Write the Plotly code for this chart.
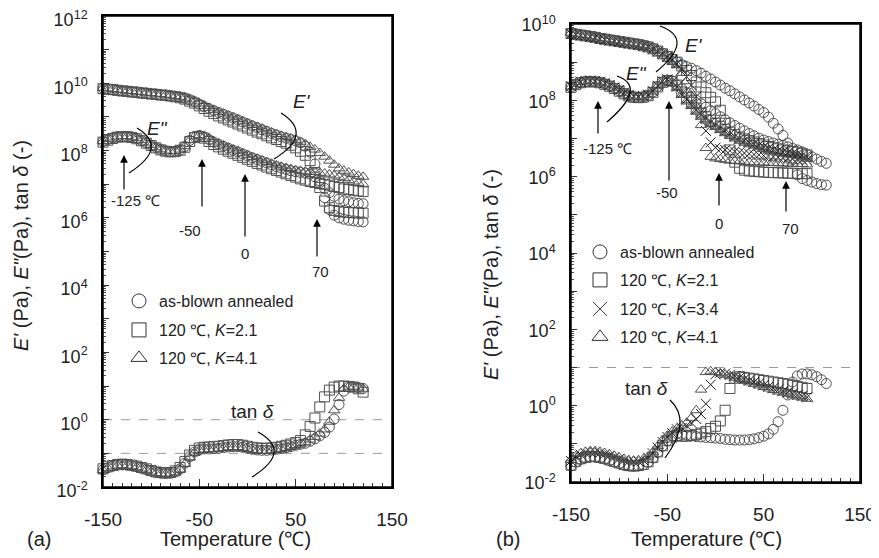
import plotly.graph_objects as go

W, H = 879, 558          # screenshot size
OFF = 8                  # page body margin in the browser
FW, FH = W - OFF, H - 2 * OFF   # keep the page free of vertical overflow
FONT = "Liberation Sans, Arial, sans-serif"

# ---------------- data (log10 of values) ----------------
T_left = list(range(-150, 125, 5))          # panel (a)
T_right_circ = list(range(-150, 120, 5))    # panel (b) as-blown
T_right = list(range(-150, 100, 5))         # panel (b) oriented films

# Panel (a)  E'
a_circ_Ep = [9.86, 9.84, 9.82, 9.80, 9.78, 9.77, 9.75, 9.74, 9.72, 9.71, 9.69, 9.68, 9.66, 9.65, 9.63, 9.61, 9.59, 9.56,
             9.51, 9.45, 9.38, 9.31, 9.25, 9.19, 9.13, 9.08, 9.02, 8.97, 8.91, 8.85,
             8.79, 8.73, 8.68, 8.62, 8.57, 8.51, 8.46, 8.41, 8.37, 8.33, 8.29, 8.23,
             8.13, 7.95, 7.60, 7.10, 6.60, 6.25, 6.08, 6.00, 5.96, 5.93, 5.91, 5.89, 5.88]
a_sq_Ep = [9.84, 9.82, 9.81, 9.79, 9.77, 9.76, 9.74, 9.73, 9.71, 9.70, 9.68, 9.67, 9.65, 9.64, 9.62, 9.60, 9.57, 9.53,
           9.47, 9.41, 9.33, 9.25, 9.17, 9.10, 9.03, 8.97, 8.91, 8.85, 8.79, 8.73,
           8.67, 8.61, 8.55, 8.50, 8.44, 8.38, 8.33, 8.27, 8.22, 8.16, 8.08, 7.98,
           7.86, 7.70, 7.35, 6.90, 6.50, 6.30, 6.22, 6.19, 6.17, 6.16, 6.15, 6.15, 6.14]
a_tri_Ep = [9.87, 9.85, 9.83, 9.81, 9.80, 9.78, 9.77, 9.75, 9.74, 9.72, 9.71, 9.69, 9.68, 9.66, 9.64, 9.62, 9.60, 9.57,
            9.52, 9.46, 9.40, 9.33, 9.27, 9.21, 9.15, 9.10, 9.04, 8.99, 8.93, 8.87,
            8.81, 8.76, 8.70, 8.65, 8.59, 8.54, 8.49, 8.44, 8.40, 8.36, 8.32, 8.26,
            8.19, 8.11, 8.03, 7.93, 7.82, 7.70, 7.58, 7.47, 7.40, 7.35, 7.30, 7.25, 7.22]
# Panel (a)  E''
a_circ_Epp = [8.27, 8.33, 8.38, 8.41, 8.42, 8.42, 8.40, 8.36, 8.30, 8.23, 8.16, 8.09, 8.03, 7.99, 7.97, 7.98, 8.02, 8.12,
              8.30, 8.42, 8.45, 8.41, 8.33, 8.25, 8.19, 8.13, 8.07, 8.01, 7.96, 7.90,
              7.84, 7.78, 7.73, 7.68, 7.63, 7.57, 7.52, 7.48, 7.44, 7.40, 7.37, 7.35,
              7.33, 7.30, 7.22, 7.05, 6.88, 6.75, 6.64, 6.56, 6.51, 6.48, 6.45, 6.43, 6.42]
a_sq_Epp = [8.25, 8.31, 8.36, 8.40, 8.41, 8.41, 8.39, 8.35, 8.29, 8.22, 8.15, 8.08, 8.02, 7.98, 7.96, 7.97, 8.01, 8.10,
            8.27, 8.39, 8.42, 8.37, 8.27, 8.18, 8.11, 8.04, 7.98, 7.92, 7.86, 7.80,
            7.74, 7.68, 7.62, 7.57, 7.51, 7.46, 7.41, 7.36, 7.31, 7.26, 7.21, 7.16,
            7.12, 7.08, 7.05, 7.02, 7.00, 6.97, 6.93, 6.90, 6.86, 6.84, 6.82, 6.80, 6.78]
a_tri_Epp = [8.28, 8.34, 8.39, 8.42, 8.43, 8.43, 8.41, 8.37, 8.31, 8.24, 8.17, 8.10, 8.04, 8.00, 7.98, 7.99, 8.03, 8.13,
             8.31, 8.43, 8.46, 8.42, 8.35, 8.27, 8.21, 8.15, 8.09, 8.03, 7.98, 7.92,
             7.87, 7.81, 7.76, 7.71, 7.66, 7.61, 7.56, 7.52, 7.48, 7.45, 7.42, 7.40,
             7.38, 7.37, 7.36, 7.34, 7.32, 7.29, 7.26, 7.22, 7.18, 7.13, 7.08, 7.04, 7.00]
# Panel (a)  tan delta
a_circ_tan = [-1.49, -1.43, -1.38, -1.35, -1.34, -1.35, -1.37, -1.40, -1.44, -1.48, -1.53, -1.57, -1.59, -1.60, -1.59, -1.55, -1.46, -1.29,
              -1.10, -0.96, -0.89, -0.87, -0.87, -0.86, -0.85, -0.83, -0.81, -0.80, -0.80, -0.82,
              -0.85, -0.88, -0.90, -0.91, -0.91, -0.90, -0.88, -0.86, -0.83, -0.80, -0.76, -0.73,
              -0.70, -0.64, -0.57, -0.48, -0.38, -0.22, 0.02, 0.45, 0.85, 0.97, 0.98, 0.96, 0.93]
a_sq_tan = [-1.46, -1.40, -1.36, -1.33, -1.32, -1.33, -1.35, -1.38, -1.42, -1.46, -1.51, -1.55, -1.57, -1.58, -1.57, -1.52, -1.42, -1.24,
            -1.05, -0.91, -0.84, -0.82, -0.81, -0.80, -0.79, -0.77, -0.75, -0.74, -0.74, -0.76,
            -0.79, -0.82, -0.84, -0.85, -0.85, -0.84, -0.82, -0.79, -0.76, -0.72, -0.68, -0.62,
            -0.45, -0.20, 0.05, 0.38, 0.68, 0.88, 0.97, 1.00, 1.00, 0.99, 0.97, 0.92, 0.82]
a_tri_tan = [-1.50, -1.44, -1.39, -1.36, -1.35, -1.36, -1.38, -1.41, -1.45, -1.49, -1.54, -1.58, -1.60, -1.61, -1.60, -1.56, -1.48, -1.31,
             -1.12, -0.98, -0.91, -0.89, -0.88, -0.87, -0.86, -0.84, -0.83, -0.82, -0.82, -0.84,
             -0.87, -0.90, -0.92, -0.93, -0.93, -0.92, -0.90, -0.87, -0.84, -0.81, -0.77, -0.73,
             -0.67, -0.59, -0.51, -0.41, -0.29, -0.06, 0.28, 0.65, 0.92, 0.98, 0.98, 0.96, 0.92]

# Panel (b)  E'
b_circ_Ep = [9.76, 9.74, 9.72, 9.70, 9.68, 9.66, 9.63, 9.61, 9.59, 9.57, 9.55, 9.53, 9.51, 9.49, 9.47, 9.44, 9.41, 9.36,
             9.30, 9.23, 9.16, 9.08, 9.00, 8.93, 8.88, 8.84, 8.78, 8.71, 8.63, 8.56,
             8.48, 8.40, 8.32, 8.25, 8.17, 8.09, 8.01, 7.93, 7.85, 7.76, 7.68, 7.56,
             7.40, 7.25, 7.08, 6.88, 6.45, 6.05, 5.95, 5.90, 5.86, 5.82, 5.79, 5.78]
b_sq_Ep = [9.75, 9.73, 9.71, 9.69, 9.67, 9.65, 9.62, 9.60, 9.58, 9.56, 9.54, 9.52, 9.50, 9.48, 9.46, 9.43, 9.40, 9.35,
           9.29, 9.22, 9.15, 9.07, 9.00, 8.90, 8.78, 8.65, 8.48, 8.35, 8.20, 8.08,
           7.96, 7.74, 7.40, 6.70, 6.38, 6.22, 6.17, 6.15, 6.14, 6.13, 6.12, 6.11,
           6.11, 6.10, 6.10, 6.09, 6.09, 6.08, 6.08, 6.08]
b_x_Ep = [9.74, 9.72, 9.70, 9.68, 9.66, 9.64, 9.61, 9.59, 9.57, 9.55, 9.53, 9.51, 9.49, 9.47, 9.45, 9.42, 9.39, 9.34,
          9.28, 9.21, 9.14, 9.06, 8.96, 8.80, 8.62, 8.40, 8.10, 7.70, 7.20, 6.90,
          6.76, 6.72, 6.70, 6.68, 6.66, 6.64, 6.62, 6.60, 6.58, 6.57, 6.55, 6.54,
          6.52, 6.51, 6.50, 6.48, 6.47, 6.46, 6.45, 6.44]
b_tri_Ep = [9.77, 9.75, 9.73, 9.71, 9.69, 9.67, 9.64, 9.62, 9.60, 9.58, 9.56, 9.54, 9.52, 9.50, 9.48, 9.45, 9.42, 9.37,
            9.31, 9.24, 9.16, 9.07, 8.92, 8.72, 8.50, 8.20, 7.85, 7.35, 6.75, 6.52,
            6.48, 6.46, 6.44, 6.42, 6.41, 6.40, 6.39, 6.38, 6.38, 6.37, 6.37, 6.36,
            6.36, 6.35, 6.35, 6.34, 6.34, 6.33, 6.33, 6.32]
# Panel (b)  E''
b_circ_Epp = [8.35, 8.42, 8.47, 8.49, 8.50, 8.49, 8.47, 8.43, 8.38, 8.32, 8.25, 8.18, 8.12, 8.09, 8.08, 8.09, 8.13, 8.22,
              8.36, 8.48, 8.53, 8.50, 8.40, 8.30, 8.20, 8.10, 8.00, 7.91, 7.82, 7.73,
              7.65, 7.57, 7.49, 7.41, 7.34, 7.27, 7.20, 7.13, 7.07, 7.01, 6.96, 6.92,
              6.88, 6.85, 6.82, 6.78, 6.74, 6.70, 6.65, 6.58, 6.52, 6.46, 6.40, 6.35]
b_sq_Epp = [8.34, 8.41, 8.46, 8.48, 8.49, 8.48, 8.46, 8.42, 8.37, 8.31, 8.24, 8.17, 8.11, 8.08, 8.07, 8.08, 8.12, 8.21,
            8.35, 8.47, 8.52, 8.50, 8.40, 8.22, 8.07, 7.95, 7.80, 7.67, 7.57, 7.48,
            7.40, 7.32, 7.24, 7.17, 7.10, 7.04, 6.99, 6.95, 6.91, 6.87, 6.83, 6.79,
            6.76, 6.73, 6.70, 6.68, 6.66, 6.64, 6.61, 6.57]
b_x_Epp = [8.37, 8.44, 8.49, 8.51, 8.52, 8.51, 8.49, 8.45, 8.40, 8.34, 8.27, 8.20, 8.14, 8.11, 8.10, 8.11, 8.15, 8.24,
           8.38, 8.50, 8.55, 8.49, 8.36, 8.18, 8.02, 7.90, 7.75, 7.62, 7.52, 7.43,
           7.35, 7.27, 7.19, 7.12, 7.05, 6.99, 6.94, 6.90, 6.86, 6.82, 6.78, 6.74,
           6.71, 6.68, 6.65, 6.63, 6.61, 6.59, 6.56, 6.52]
b_tri_Epp = [8.36, 8.43, 8.48, 8.50, 8.51, 8.50, 8.48, 8.44, 8.39, 8.33, 8.26, 8.19, 8.13, 8.10, 8.09, 8.10, 8.14, 8.23,
             8.37, 8.49, 8.54, 8.47, 8.32, 8.14, 7.97, 7.85, 7.70, 7.57, 7.47, 7.38,
             7.30, 7.22, 7.14, 7.07, 7.00, 6.94, 6.89, 6.85, 6.81, 6.77, 6.73, 6.69,
             6.66, 6.63, 6.60, 6.58, 6.56, 6.54, 6.51, 6.47]
# Panel (b)  tan delta
b_circ_tan = [-1.58, -1.48, -1.41, -1.37, -1.35, -1.35, -1.37, -1.40, -1.44, -1.48, -1.52, -1.56, -1.58, -1.59, -1.58, -1.55, -1.48, -1.37,
              -1.22, -1.06, -0.92, -0.80, -0.73, -0.75, -0.77, -0.79, -0.81, -0.82, -0.83, -0.84,
              -0.85, -0.86, -0.88, -0.89, -0.90, -0.90, -0.90, -0.89, -0.87, -0.84, -0.80, -0.74,
              -0.62, -0.42, -0.12, 0.28, 0.62, 0.78, 0.83, 0.83, 0.81, 0.76, 0.68, 0.58]
b_sq_tan = [-1.56, -1.46, -1.39, -1.35, -1.33, -1.33, -1.35, -1.38, -1.42, -1.46, -1.50, -1.54, -1.57, -1.58, -1.57, -1.54, -1.47, -1.36,
            -1.21, -1.05, -0.92, -0.82, -0.78, -0.80, -0.80, -0.78, -0.75, -0.72, -0.68, -0.60,
            -0.54, -0.40, -0.12, 0.45, 0.72, 0.76, 0.74, 0.72, 0.70, 0.68, 0.66, 0.64,
            0.62, 0.60, 0.58, 0.56, 0.53, 0.50, 0.48, 0.45]
b_x_tan = [-1.45, -1.35, -1.28, -1.24, -1.22, -1.22, -1.24, -1.27, -1.31, -1.35, -1.39, -1.43, -1.46, -1.47, -1.46, -1.43, -1.36, -1.25,
           -1.10, -0.95, -0.82, -0.72, -0.62, -0.58, -0.52, -0.45, -0.35, -0.22, 0.05, 0.55,
           0.82, 0.86, 0.84, 0.81, 0.78, 0.74, 0.70, 0.66, 0.62, 0.58, 0.54, 0.50,
           0.46, 0.42, 0.38, 0.35, 0.31, 0.28, 0.25, 0.22]
b_tri_tan = [-1.42, -1.32, -1.25, -1.21, -1.19, -1.19, -1.21, -1.24, -1.28, -1.32, -1.36, -1.40, -1.43, -1.44, -1.43, -1.40, -1.33, -1.22,
             -1.06, -0.90, -0.78, -0.68, -0.60, -0.52, -0.45, -0.32, -0.12, 0.42, 0.88, 0.90,
             0.88, 0.85, 0.81, 0.77, 0.73, 0.69, 0.65, 0.61, 0.57, 0.53, 0.49, 0.45,
             0.41, 0.37, 0.34, 0.31, 0.27, 0.24, 0.21, 0.18]

x_tickvals = [-150, -50, 50, 150]
left_decades = list(range(-2, 13))
right_decades = list(range(-2, 11))

legend_a = ["as-blown annealed", "120 ℃, <i>K</i>=2.1", "120 ℃, <i>K</i>=4.1"]
legend_b = ["as-blown annealed", "120 ℃, <i>K</i>=2.1", "120 ℃, <i>K</i>=3.4", "120 ℃, <i>K</i>=4.1"]

# ---------------- styles ----------------
STY = {
    "circ": dict(symbol="circle-open", color="#505050"),
    "sq": dict(symbol="square-open", color="#505050"),
    "x": dict(symbol="x-thin-open", color="#1e1e1e"),
    "tri": dict(symbol="triangle-up-open", color="#505050"),
}


def lin(vals):
    return [10 ** v for v in vals]


def px(x):
    return (x - OFF) / FW


def py(y):
    return 1 - (y - OFF) / FH


fig = go.Figure()
legend_layouts = {}
legend_count = [0]


def add_series(T, curves, key, name, xa, ya, lx, ly):
    st = STY[key]
    for c in curves:
        fig.add_trace(go.Scatter(
            x=T, y=lin(c), mode="markers", xaxis=xa, yaxis=ya, showlegend=False,
            cliponaxis=False, hoverinfo="skip",
            marker=dict(symbol=st["symbol"], size=10, color=st["color"], line=dict(width=1, color=st["color"]))))
    legend_count[0] += 1
    lid = "legend" if legend_count[0] == 1 else "legend%d" % legend_count[0]
    legend_layouts[lid] = dict(x=px(lx), y=py(ly), xanchor="left", yanchor="middle",
                               bgcolor="rgba(0,0,0,0)", borderwidth=0,
                               font=dict(family=FONT, size=16, color="#222"))
    fig.add_trace(go.Scatter(
        x=[None], y=[None], mode="markers", xaxis=xa, yaxis=ya, name=name, legend=lid,
        marker=dict(symbol=st["symbol"], size=14, color="#333333", line=dict(width=1, color="#333333"))))


LX_A, LX_B = 119, 580
add_series(T_left, [a_circ_Ep, a_circ_Epp, a_circ_tan], "circ", legend_a[0], "x", "y", LX_A, 301)
add_series(T_left, [a_sq_Ep, a_sq_Epp, a_sq_tan], "sq", legend_a[1], "x", "y", LX_A, 330)
add_series(T_left, [a_tri_Ep, a_tri_Epp, a_tri_tan], "tri", legend_a[2], "x", "y", LX_A, 358)

add_series(T_right_circ, [b_circ_Ep, b_circ_Epp, b_circ_tan], "circ", legend_b[0], "x2", "y2", LX_B, 252)
add_series(T_right, [b_sq_Ep, b_sq_Epp, b_sq_tan], "sq", legend_b[1], "x2", "y2", LX_B, 280)
add_series(T_right, [b_x_Ep, b_x_Epp, b_x_tan], "x", legend_b[2], "x2", "y2", LX_B, 309)
add_series(T_right, [b_tri_Ep, b_tri_Epp, b_tri_tan], "tri", legend_b[3], "x2", "y2", LX_B, 337)


def xaxis_cfg(dom, anchor):
    return dict(domain=dom, anchor=anchor, range=[-150, 150], tickmode="array", tickvals=x_tickvals,
                ticktext=[str(v) for v in x_tickvals], ticks="inside", ticklen=8, tickwidth=1,
                tickcolor="#333", showline=True, linecolor="black", linewidth=1.5, mirror=True,
                showgrid=False, zeroline=False, ticklabelstandoff=14, automargin=False,
                ticklabeloverflow="allow",
                tickfont=dict(family=FONT, size=19, color="#222"),
                minor=dict(tickmode="array", tickvals=list(range(-140, 150, 10)), ticks="inside",
                           ticklen=4, tickwidth=1, tickcolor="#333", showgrid=False))


def yaxis_cfg(dom, decs, anchor, shift):
    return dict(domain=dom, anchor=anchor, type="log", range=[decs[0] - 1e-6, decs[-1] + 1e-6],
                tickmode="array",
                tickvals=[10 ** d for d in decs],
                ticktext=[("10<sup>%d</sup>" % d) if d % 2 == 0 else "" for d in decs],
                ticks="inside", ticklen=6, tickwidth=1, tickcolor="#333",
                showline=True, linecolor="black", linewidth=1.5, mirror=True,
                showgrid=False, zeroline=False, ticklabelstandoff=10, ticklabelshift=shift,
                automargin=False, ticklabeloverflow="allow",
                tickfont=dict(family=FONT, size=18, color="#222"),
                minor=dict(tickmode="array",
                           tickvals=[m * 10 ** d for d in decs[:-1] for m in range(2, 10)],
                           ticks="inside", ticklen=3, tickwidth=1, tickcolor="#555", showgrid=False))


fig.update_layout(
    width=FW, height=FH, margin=dict(l=0, r=0, t=0, b=0, autoexpand=False),
    paper_bgcolor="white", plot_bgcolor="white",
    font=dict(family=FONT, size=16, color="#222"),
    xaxis=xaxis_cfg([px(103), px(392)], "y"),
    yaxis=yaxis_cfg([py(487), py(16)], left_decades, "x", 4),
    xaxis2=xaxis_cfg([px(571), px(860)], "y2"),
    yaxis2=yaxis_cfg([py(482), py(24)], right_decades, "x2", 1),
    showlegend=True,
    **legend_layouts
)

# panel frames
for xa, ya in [("x", "y"), ("x2", "y2")]:
    fig.add_shape(type="rect", xref=xa + " domain", yref=ya + " domain", x0=0, x1=1, y0=0, y1=1,
                  line=dict(color="black", width=1.5), fillcolor="rgba(0,0,0,0)", layer="above")

# dashed reference lines
dash_lines = [("x", "y", 0.0, left_decades), ("x", "y", -1.0, left_decades), ("x2", "y2", 1.0, right_decades)]
for xa, ya, dec, decs in dash_lines:
    yd = (dec - decs[0]) / (decs[-1] - decs[0])
    fig.add_shape(type="line", xref=xa + " domain", yref=ya + " domain", x0=0, x1=1, y0=yd, y1=yd,
                  line=dict(color="#9a9a9a", width=1, dash="dash"), layer="below")

# curved bracket marks (pixel positions converted to paper units)
arcs = [
    ((137, 128), (151, 149), (129, 173)),
    ((281, 113), (296, 135), (274, 159)),
    ((258, 432), (274, 453), (252, 477)),
    ((660, 26), (677, 44), (656, 72)),
    ((617, 76), (630, 93), (607, 122)),
    ((670, 400), (680, 425), (665, 458)),
]
for p0, p1, p2 in arcs:
    cx = 2 * p1[0] - (p0[0] + p2[0]) / 2
    cy = 2 * p1[1] - (p0[1] + p2[1]) / 2
    path = "M %f,%f Q %f,%f %f,%f" % (px(p0[0]), py(p0[1]), px(cx), py(cy), px(p2[0]), py(p2[1]))
    fig.add_shape(type="path", xref="paper", yref="paper", path=path, line=dict(color="black", width=1.2))

# arrows (x, tip_y, tail_y)
arrows = [(124, 155, 191), (202, 159, 208), (245, 174, 238), (317, 219, 258),
          (598, 101, 135), (669, 101, 182), (719, 173, 207), (786, 181, 213)]
for x, tip, tail in arrows:
    fig.add_annotation(x=px(x), y=py(tip), xref="paper", yref="paper", ax=0, ay=tail - tip,
                       text="", showarrow=True, arrowhead=2, arrowsize=1.3, arrowwidth=1.2,
                       arrowcolor="black")

texts = [
    ("-125 ℃", 135, 201, 15), ("-50", 190, 230, 15), ("0", 245, 253, 15), ("70", 320, 271, 15),
    ("-125 ℃", 607, 148, 15), ("-50", 667, 193, 15), ("0", 719, 224, 15), ("70", 790, 228, 15),
    ("<i>E'</i>", 302, 102, 19), ('<i>E"</i>', 157, 128, 19), ("tan <i>δ</i>", 253, 411, 19),
    ("<i>E'</i>", 694, 46, 19), ('<i>E"</i>', 636, 73, 19), ("tan <i>δ</i>", 646, 388, 19),
    ("Temperature (℃)", 235, 539, 20), ("Temperature (℃)", 706, 539, 20),
    ("(a)", 39, 539, 20), ("(b)", 508, 539, 20),
]
for t, x, y, s in texts:
    fig.add_annotation(x=px(x), y=py(y), xref="paper", yref="paper", text=t, showarrow=False,
                       xanchor="center", yanchor="middle", font=dict(family=FONT, size=s, color="#222"))

ytitle = "<i>E'</i> (Pa), <i>E\"</i>(Pa), tan <i>δ</i> (-)"
for x, y in [(21, 246), (491, 275)]:
    fig.add_annotation(x=px(x), y=py(y), xref="paper", yref="paper", text=ytitle, showarrow=False,
                       textangle=-90, xanchor="center", yanchor="middle",
                       font=dict(family=FONT, size=20, color="#222"))

fig.write_html("out.html")
